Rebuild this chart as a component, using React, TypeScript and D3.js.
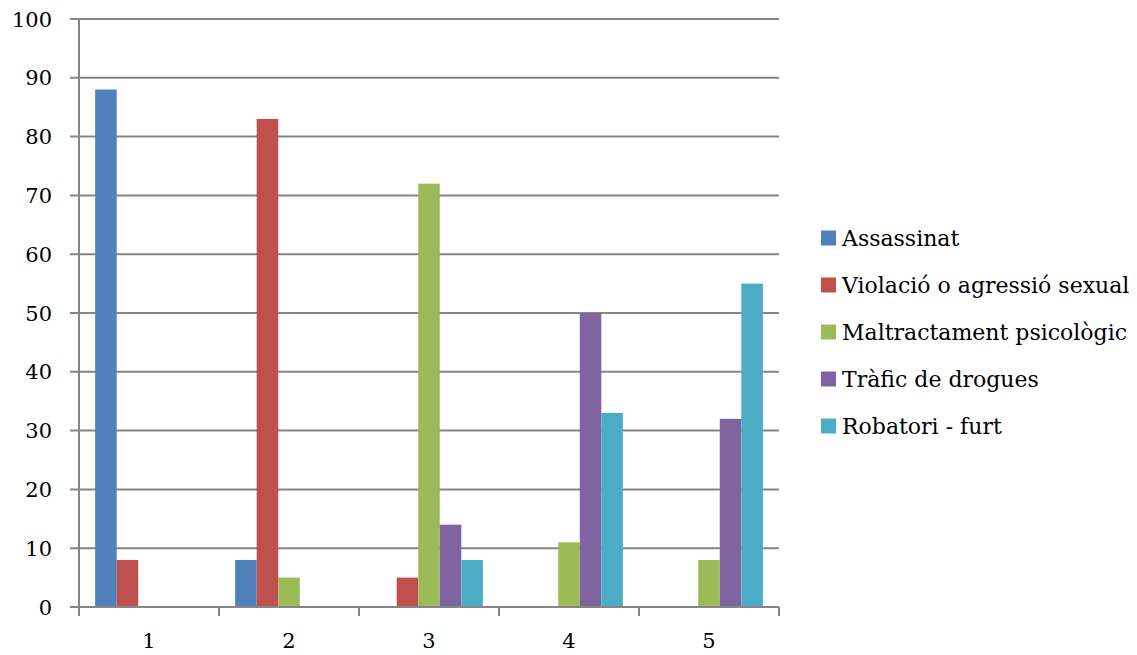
import React, { useRef, useEffect } from 'react';
import * as d3 from 'd3';

const categories = ['1', '2', '3', '4', '5'];
const seriesNames = [
  'Assassinat',
  'Violació o agressió sexual',
  'Maltractament psicològic',
  'Tràfic de drogues',
  'Robatori - furt',
];
const seriesColors = ['#4F81BD', '#C0504D', '#9BBB59', '#8064A2', '#4BACC6'];
// values per series, one number per category
const assassinat = [88, 8, 0, 0, 0];
const violacio = [8, 83, 5, 0, 0];
const maltractament = [0, 5, 72, 11, 8];
const trafic = [0, 0, 14, 50, 32];
const robatori = [0, 0, 8, 33, 55];
const yTicks = [0, 10, 20, 30, 40, 50, 60, 70, 80, 90, 100];

const seriesValues = [assassinat, violacio, maltractament, trafic, robatori];

const App = () => {
  const ref = useRef<SVGSVGElement>(null);

  useEffect(() => {
    if (!ref.current) return;
    const svg = d3.select(ref.current);
    svg.selectAll('*').remove();

    const width = 1137;
    const height = 655;
    svg.attr('width', width).attr('height', height);

    const left = 79;
    const right = 779;
    const top = 19;
    const bottom = 607;
    const font = "'DejaVu Serif', serif";

    const x0 = d3.scaleBand().domain(categories).range([left, right]);
    const x1 = d3
      .scaleBand()
      .domain(seriesNames)
      .range([0, x0.bandwidth()])
      .paddingOuter(0.75);
    const y = d3.scaleLinear().domain([0, 100]).range([bottom, top]);

    // gridlines
    svg
      .append('g')
      .selectAll('line')
      .data(yTicks)
      .enter()
      .append('line')
      .attr('x1', left - 9)
      .attr('x2', right)
      .attr('y1', (d) => y(d))
      .attr('y2', (d) => y(d))
      .attr('stroke', '#868686')
      .attr('stroke-width', 2);

    // y axis line
    svg
      .append('line')
      .attr('x1', left)
      .attr('x2', left)
      .attr('y1', top)
      .attr('y2', bottom)
      .attr('stroke', '#868686')
      .attr('stroke-width', 2);

    // y tick labels
    svg
      .append('g')
      .selectAll('text')
      .data(yTicks)
      .enter()
      .append('text')
      .text((d) => d)
      .attr('x', 52)
      .attr('y', (d) => y(d))
      .attr('dy', '0.36em')
      .attr('text-anchor', 'end')
      .attr('font-size', '21px')
      .attr('fill', '#000')
      .style('font-family', font);

    // bars
    const rows = categories.map((c, i) => ({
      cat: c,
      vals: seriesNames.map((s, j) => ({ name: s, value: seriesValues[j][i], color: seriesColors[j] })),
    }));
    svg
      .append('g')
      .selectAll('g')
      .data(rows)
      .enter()
      .append('g')
      .attr('transform', (d) => `translate(${x0(d.cat)},0)`)
      .selectAll('rect')
      .data((d) => d.vals.filter((v) => v.value > 0))
      .enter()
      .append('rect')
      .attr('x', (d) => x1(d.name) as number)
      .attr('width', x1.bandwidth())
      .attr('y', (d) => y(d.value))
      .attr('height', (d) => bottom - y(d.value))
      .attr('fill', (d) => d.color);

    // x axis line and ticks
    svg
      .append('line')
      .attr('x1', left)
      .attr('x2', right)
      .attr('y1', bottom)
      .attr('y2', bottom)
      .attr('stroke', '#868686')
      .attr('stroke-width', 2);
    const boundaries = categories.map((c) => x0(c) as number).concat([right]);
    svg
      .append('g')
      .selectAll('line')
      .data(boundaries)
      .enter()
      .append('line')
      .attr('x1', (d) => d)
      .attr('x2', (d) => d)
      .attr('y1', bottom)
      .attr('y2', bottom + 9)
      .attr('stroke', '#868686')
      .attr('stroke-width', 2);

    svg
      .append('g')
      .selectAll('text')
      .data(categories)
      .enter()
      .append('text')
      .text((d) => d)
      .attr('x', (d) => (x0(d) as number) + x0.bandwidth() / 2)
      .attr('y', 640)
      .attr('dy', '0.36em')
      .attr('text-anchor', 'middle')
      .attr('font-size', '21px')
      .attr('fill', '#000')
      .style('font-family', font);

    // legend
    const legend = svg
      .append('g')
      .selectAll('g')
      .data(seriesNames)
      .enter()
      .append('g')
      .attr('transform', (d, i) => `translate(821,${238 + i * 47})`);
    legend
      .append('rect')
      .attr('x', 0)
      .attr('y', -7.5)
      .attr('width', 15)
      .attr('height', 15)
      .attr('fill', (d, i) => seriesColors[i]);
    legend
      .append('text')
      .text((d) => d)
      .attr('x', 21)
      .attr('y', 0)
      .attr('dy', '0.36em')
      .attr('font-size', '22px')
      .attr('fill', '#000')
      .style('font-family', font);
  }, []);

  return <svg ref={ref} style={{ position: 'absolute', left: 0, top: 0 }} />;
};

export default App;
